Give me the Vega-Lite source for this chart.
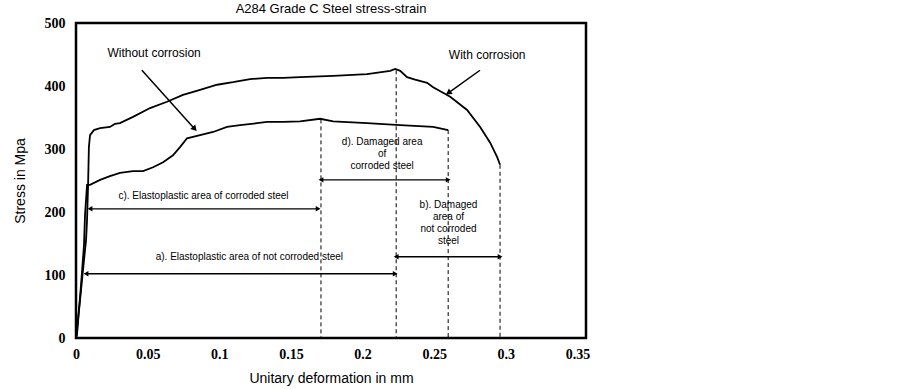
{
  "$schema": "https://vega.github.io/schema/vega-lite/v6.json",
  "autosize": {"type": "none"},
  "padding": {"left": 76, "top": 23, "right": 316, "bottom": 51},
  "width": 510,
  "height": 315,
  "background": "white",
  "title": {"text": "A284 Grade C Steel stress-strain", "font": "Liberation Sans", "fontSize": 13, "fontWeight": "normal", "color": "black", "offset": 0, "anchor": "middle"},
  "config": {
    "view": {"stroke": "black", "strokeWidth": 2.5},
    "axis": {"grid": false, "ticks": false, "domain": false, "labelFlush": false, "labelFont": "Liberation Serif", "labelFontWeight": "bold", "labelFontSize": 14, "labelColor": "black", "titleFont": "Liberation Sans", "titleFontSize": 14, "titleFontWeight": "normal", "titleColor": "black"}
  },
  "datasets": {
    "curves": [
      {"series": "not corroded", "strain": 0, "stress": 0},
      {"series": "not corroded", "strain": 0.0028, "stress": 60},
      {"series": "not corroded", "strain": 0.0056, "stress": 124},
      {"series": "not corroded", "strain": 0.007, "stress": 155},
      {"series": "not corroded", "strain": 0.0077, "stress": 187},
      {"series": "not corroded", "strain": 0.0084, "stress": 240},
      {"series": "not corroded", "strain": 0.009, "stress": 303},
      {"series": "not corroded", "strain": 0.0098, "stress": 322},
      {"series": "not corroded", "strain": 0.0125, "stress": 330},
      {"series": "not corroded", "strain": 0.0168, "stress": 333},
      {"series": "not corroded", "strain": 0.0237, "stress": 335},
      {"series": "not corroded", "strain": 0.0272, "stress": 340},
      {"series": "not corroded", "strain": 0.0307, "stress": 341},
      {"series": "not corroded", "strain": 0.0398, "stress": 351},
      {"series": "not corroded", "strain": 0.0517, "stress": 365},
      {"series": "not corroded", "strain": 0.0635, "stress": 375},
      {"series": "not corroded", "strain": 0.0747, "stress": 386},
      {"series": "not corroded", "strain": 0.0866, "stress": 394},
      {"series": "not corroded", "strain": 0.0985, "stress": 402},
      {"series": "not corroded", "strain": 0.1096, "stress": 406},
      {"series": "not corroded", "strain": 0.1215, "stress": 411},
      {"series": "not corroded", "strain": 0.1334, "stress": 413},
      {"series": "not corroded", "strain": 0.1446, "stress": 413},
      {"series": "not corroded", "strain": 0.1564, "stress": 414},
      {"series": "not corroded", "strain": 0.1795, "stress": 416},
      {"series": "not corroded", "strain": 0.2032, "stress": 419},
      {"series": "not corroded", "strain": 0.2193, "stress": 424},
      {"series": "not corroded", "strain": 0.2228, "stress": 427},
      {"series": "not corroded", "strain": 0.2263, "stress": 424},
      {"series": "not corroded", "strain": 0.2311, "stress": 414},
      {"series": "not corroded", "strain": 0.2367, "stress": 410},
      {"series": "not corroded", "strain": 0.2451, "stress": 405},
      {"series": "not corroded", "strain": 0.2493, "stress": 398},
      {"series": "not corroded", "strain": 0.2612, "stress": 383},
      {"series": "not corroded", "strain": 0.273, "stress": 362},
      {"series": "not corroded", "strain": 0.2821, "stress": 335},
      {"series": "not corroded", "strain": 0.2891, "stress": 310},
      {"series": "not corroded", "strain": 0.294, "stress": 287},
      {"series": "not corroded", "strain": 0.296, "stress": 275},
      {"series": "corroded", "strain": 0, "stress": 0},
      {"series": "corroded", "strain": 0.0007, "stress": 5},
      {"series": "corroded", "strain": 0.0035, "stress": 84},
      {"series": "corroded", "strain": 0.0056, "stress": 148},
      {"series": "corroded", "strain": 0.0063, "stress": 195},
      {"series": "corroded", "strain": 0.0077, "stress": 243},
      {"series": "corroded", "strain": 0.0098, "stress": 243},
      {"series": "corroded", "strain": 0.0168, "stress": 251},
      {"series": "corroded", "strain": 0.0237, "stress": 257},
      {"series": "corroded", "strain": 0.0307, "stress": 262},
      {"series": "corroded", "strain": 0.0398, "stress": 265},
      {"series": "corroded", "strain": 0.0468, "stress": 265},
      {"series": "corroded", "strain": 0.0538, "stress": 271},
      {"series": "corroded", "strain": 0.0608, "stress": 279},
      {"series": "corroded", "strain": 0.0677, "stress": 290},
      {"series": "corroded", "strain": 0.0726, "stress": 303},
      {"series": "corroded", "strain": 0.0775, "stress": 317},
      {"series": "corroded", "strain": 0.0866, "stress": 322},
      {"series": "corroded", "strain": 0.0957, "stress": 327},
      {"series": "corroded", "strain": 0.1054, "stress": 335},
      {"series": "corroded", "strain": 0.1145, "stress": 338},
      {"series": "corroded", "strain": 0.1264, "stress": 341},
      {"series": "corroded", "strain": 0.1334, "stress": 343},
      {"series": "corroded", "strain": 0.1446, "stress": 343},
      {"series": "corroded", "strain": 0.1564, "stress": 344},
      {"series": "corroded", "strain": 0.1704, "stress": 348},
      {"series": "corroded", "strain": 0.1795, "stress": 344},
      {"series": "corroded", "strain": 0.2032, "stress": 341},
      {"series": "corroded", "strain": 0.2263, "stress": 338},
      {"series": "corroded", "strain": 0.2493, "stress": 335},
      {"series": "corroded", "strain": 0.2598, "stress": 330}
    ],
    "dashes": [
      {"strain": 0.171, "top": 347},
      {"strain": 0.2235, "top": 425},
      {"strain": 0.2598, "top": 330},
      {"strain": 0.296, "top": 275}
    ],
    "spans": [
      {"id": "c", "from": 0.0098, "to": 0.169, "stress": 205},
      {"id": "a", "from": 0.007, "to": 0.2228, "stress": 102},
      {"id": "d", "from": 0.171, "to": 0.2598, "stress": 251},
      {"id": "b", "from": 0.2235, "to": 0.296, "stress": 129}
    ],
    "notes": [
      {"strain": 0.089, "stress": 233, "label": "c). Elastoplastic area of corroded steel"},
      {"strain": 0.121, "stress": 136, "label": "a). Elastoplastic area of not corroded steel"},
      {"strain": 0.2137, "stress": 319, "label": "d). Damaged area\nof\ncorroded steel"},
      {"strain": 0.26, "stress": 219, "label": "b). Damaged\narea of\nnot corroded\nsteel"}
    ],
    "callouts": [
      {"strain": 0.0545, "stress": 460, "label": "Without corrosion"},
      {"strain": 0.287, "stress": 457, "label": "With corrosion"}
    ],
    "pointers": [
      {"name": "without", "fromStrain": 0.046, "fromStress": 425, "toStrain": 0.0824, "toStress": 333},
      {"name": "with", "fromStrain": 0.282, "fromStress": 425, "toStrain": 0.2605, "toStress": 390}
    ]
  },
  "encoding": {
    "x": {"type": "quantitative"},
    "y": {"type": "quantitative"}
  },
  "layer": [
    {
      "data": {"name": "dashes"},
      "mark": {"type": "rule", "color": "black", "strokeWidth": 1, "strokeDash": [4, 3]},
      "encoding": {
        "x": {"field": "strain", "type": "quantitative", "scale": {"domain": [0, 0.356], "nice": false, "zero": false}, "axis": {"values": [0, 0.05, 0.1, 0.15, 0.2, 0.25, 0.3, 0.35], "format": "~g", "labelPadding": 9, "title": "Unitary deformation in mm", "titlePadding": 10}},
        "y": {"field": "top", "type": "quantitative", "scale": {"domain": [0, 500], "nice": false}, "axis": {"values": [0, 100, 200, 300, 400, 500], "labelPadding": 11, "title": "Stress in Mpa", "titlePadding": 17}},
        "y2": {"datum": 0}
      }
    },
    {
      "data": {"name": "curves"},
      "mark": {"type": "line", "color": "black", "strokeWidth": 1.8},
      "encoding": {
        "x": {"field": "strain", "type": "quantitative"},
        "y": {"field": "stress", "type": "quantitative"},
        "detail": {"field": "series"}
      }
    },
    {
      "data": {"name": "spans"},
      "mark": {"type": "rule", "color": "black", "strokeWidth": 1.3},
      "encoding": {
        "x": {"field": "from", "type": "quantitative"},
        "x2": {"field": "to"},
        "y": {"field": "stress", "type": "quantitative"}
      }
    },
    {
      "data": {"name": "spans"},
      "mark": {"type": "point", "shape": "triangle-left", "filled": true, "color": "black", "size": 30, "opacity": 1},
      "encoding": {
        "x": {"field": "from", "type": "quantitative"},
        "y": {"field": "stress", "type": "quantitative"}
      }
    },
    {
      "data": {"name": "spans"},
      "mark": {"type": "point", "shape": "triangle-right", "filled": true, "color": "black", "size": 30, "opacity": 1},
      "encoding": {
        "x": {"field": "to", "type": "quantitative"},
        "y": {"field": "stress", "type": "quantitative"}
      }
    },
    {
      "data": {"name": "pointers"},
      "mark": {"type": "rule", "color": "black", "strokeWidth": 1.5},
      "encoding": {
        "x": {"field": "fromStrain", "type": "quantitative"},
        "y": {"field": "fromStress", "type": "quantitative"},
        "x2": {"field": "toStrain"},
        "y2": {"field": "toStress"}
      }
    },
    {
      "data": {"name": "pointers"},
      "transform": [{"filter": "datum.name === 'without'"}],
      "mark": {"type": "point", "shape": "triangle", "filled": true, "color": "black", "size": 45, "opacity": 1, "angle": 138},
      "encoding": {
        "x": {"field": "toStrain", "type": "quantitative"},
        "y": {"field": "toStress", "type": "quantitative"}
      }
    },
    {
      "data": {"name": "pointers"},
      "transform": [{"filter": "datum.name === 'with'"}],
      "mark": {"type": "point", "shape": "triangle", "filled": true, "color": "black", "size": 45, "opacity": 1, "angle": 235},
      "encoding": {
        "x": {"field": "toStrain", "type": "quantitative"},
        "y": {"field": "toStress", "type": "quantitative"}
      }
    },
    {
      "data": {"name": "notes"},
      "mark": {"type": "text", "font": "Liberation Sans", "fontSize": 10, "baseline": "top", "align": "center", "lineBreak": "\n", "lineHeight": 12, "color": "black"},
      "encoding": {
        "x": {"field": "strain", "type": "quantitative"},
        "y": {"field": "stress", "type": "quantitative"},
        "text": {"field": "label"}
      }
    },
    {
      "data": {"name": "callouts"},
      "mark": {"type": "text", "font": "Liberation Sans", "fontSize": 12, "baseline": "top", "align": "center", "color": "black"},
      "encoding": {
        "x": {"field": "strain", "type": "quantitative"},
        "y": {"field": "stress", "type": "quantitative"},
        "text": {"field": "label"}
      }
    }
  ]
}
